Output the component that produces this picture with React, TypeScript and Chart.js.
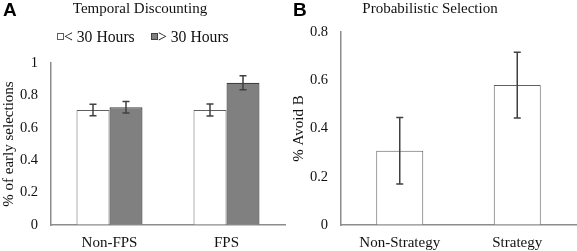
import React, { useEffect, useRef } from "react";
import { Chart, registerables } from "chart.js";

Chart.register(...registerables);

// Panel A: Temporal Discounting
const tdCategories = ["Non-FPS", "FPS"];
const tdLessLabel = "< 30 Hours";
const tdMoreLabel = "> 30 Hours";
const tdLess30 = [0.71, 0.71];
const tdLess30Err = [0.036, 0.037];
const tdMore30 = [0.727, 0.878];
const tdMore30Err = [0.036, 0.043];
const tdTitle = "Temporal Discounting";
const tdYLabel = "% of early selections";

// Panel B: Probabilistic Selection
const psCategories = ["Non-Strategy", "Strategy"];
const psValues = [0.308, 0.58];
const psErr = [0.138, 0.136];
const psTitle = "Probabilistic Selection";
const psYLabel = "% Avoid B";

const SERIF = "'Liberation Serif', 'Times New Roman', serif";
const SANS = "'Liberation Sans', Arial, sans-serif";
const AXIS = "#8c8c8c";

const errorBarPlugin = {
  id: "errorBars",
  afterDatasetsDraw(chart: any) {
    const ctx = chart.ctx;
    const y = chart.scales.y;
    chart.data.datasets.forEach((ds: any, i: number) => {
      const meta = chart.getDatasetMeta(i);
      if (!ds.errors) return;
      meta.data.forEach((el: any, j: number) => {
        const v = ds.data[j];
        const e = ds.errors[j];
        const top = y.getPixelForValue(v + e);
        const bot = y.getPixelForValue(v - e);
        ctx.save();
        ctx.strokeStyle = "#404040";
        ctx.lineWidth = 1.5;
        ctx.beginPath();
        ctx.moveTo(el.x, top);
        ctx.lineTo(el.x, bot);
        ctx.moveTo(el.x - 3.5, top);
        ctx.lineTo(el.x + 3.5, top);
        ctx.moveTo(el.x - 3.5, bot);
        ctx.lineTo(el.x + 3.5, bot);
        ctx.stroke();
        ctx.restore();
      });
    });
  },
};

function makeTextPlugin(letter: string, title: string, legend: boolean) {
  return {
    id: "panelText",
    afterDraw(chart: any) {
      const ctx = chart.ctx;
      ctx.save();
      ctx.fillStyle = "#000";
      ctx.textBaseline = "alphabetic";
      ctx.textAlign = "left";
      ctx.font = `bold 19px ${SANS}`;
      ctx.fillText(letter, 3, 16);
      ctx.fillStyle = "#111";
      ctx.font = `15px ${SERIF}`;
      ctx.textAlign = "center";
      ctx.fillText(title, 140, 13);
      if (legend) {
        ctx.textAlign = "left";
        ctx.font = `15.7px ${SERIF}`;
        const items = [
          { x: 57, ds: chart.data.datasets[0] },
          { x: 151, ds: chart.data.datasets[1] },
        ];
        items.forEach((it) => {
          ctx.fillStyle = it.ds.backgroundColor;
          ctx.fillRect(it.x + 0.5, 33.5, 6, 6);
          ctx.strokeStyle = it.ds.borderColor;
          ctx.lineWidth = 1;
          ctx.strokeRect(it.x + 0.5, 33.5, 6, 6);
          ctx.fillStyle = "#111";
          ctx.fillText(it.ds.label, it.x + 7, 41.5);
        });
      }
      ctx.restore();
    },
  };
}

function scales(max: number, yLabel: string) {
  return {
    x: {
      grid: { display: true, drawOnChartArea: false, drawTicks: false },
      border: { display: true, color: AXIS, width: 1.5 },
      ticks: { padding: 9, color: "#111", font: { family: SERIF, size: 15 } },
      afterFit: (s: any) => {
        s.height = 26;
      },
    },
    y: {
      min: 0,
      max,
      grid: { display: true, drawOnChartArea: false, drawTicks: false },
      border: { display: true, color: AXIS, width: 1.5 },
      ticks: {
        stepSize: 0.2,
        padding: 13,
        color: "#111",
        font: { family: SERIF, size: 14.5 },
        callback: (v: any) => String(Math.round(Number(v) * 10) / 10),
      },
      title: {
        display: true,
        text: yLabel,
        color: "#111",
        padding: 0,
        font: { family: SERIF, size: 15 },
      },
      afterFit: (s: any) => {
        s.width = 51;
      },
    },
  };
}

export default function App() {
  const refA = useRef<HTMLCanvasElement>(null);
  const refB = useRef<HTMLCanvasElement>(null);

  useEffect(() => {
    const a = new Chart(refA.current!, {
      type: "bar",
      data: {
        labels: tdCategories,
        datasets: [
          {
            label: tdLessLabel,
            data: tdLess30,
            errors: tdLess30Err,
            backgroundColor: "#ffffff",
            borderColor: "#606060",
            borderWidth: 1,
            categoryPercentage: 0.564,
            barPercentage: 1,
          } as any,
          {
            label: tdMoreLabel,
            data: tdMore30,
            errors: tdMore30Err,
            backgroundColor: "#808080",
            borderColor: "#404040",
            borderWidth: 1.2,
            categoryPercentage: 0.564,
            barPercentage: 1,
          } as any,
        ],
      },
      options: {
        responsive: false,
        animation: false,
        devicePixelRatio: 1,
        layout: { padding: { top: 63, right: 5, bottom: 0, left: 0 } },
        plugins: { legend: { display: false }, title: { display: false }, tooltip: { enabled: false } },
        scales: scales(1, tdYLabel) as any,
      },
      plugins: [errorBarPlugin, makeTextPlugin("A", tdTitle, true)],
    });
    const b = new Chart(refB.current!, {
      type: "bar",
      data: {
        labels: psCategories,
        datasets: [
          {
            label: "Avoid B",
            data: psValues,
            errors: psErr,
            backgroundColor: "#ffffff",
            borderColor: "#606060",
            borderWidth: 1,
            categoryPercentage: 0.4,
            barPercentage: 1,
          } as any,
        ],
      },
      options: {
        responsive: false,
        animation: false,
        devicePixelRatio: 1,
        layout: { padding: { top: 32, right: 1, bottom: 0, left: 0 } },
        plugins: { legend: { display: false }, title: { display: false }, tooltip: { enabled: false } },
        scales: scales(0.8, psYLabel) as any,
      },
      plugins: [errorBarPlugin, makeTextPlugin("B", psTitle, false)],
    });
    return () => {
      a.destroy();
      b.destroy();
    };
  }, []);

  return (
    <div style={{ position: "absolute", left: 0, top: 0, width: 577, height: 251, background: "#fff" }}>
      <canvas ref={refA} width={290} height={251} style={{ position: "absolute", left: 0, top: 0, width: 290, height: 251 }} />
      <canvas ref={refB} width={287} height={251} style={{ position: "absolute", left: 290, top: 0, width: 287, height: 251 }} />
    </div>
  );
}
